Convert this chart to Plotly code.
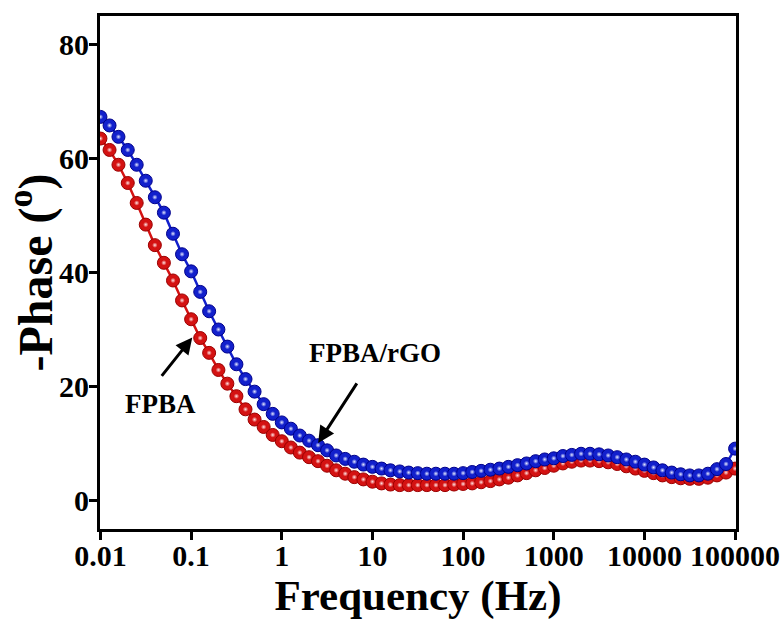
import math
import plotly.graph_objects as go

# Measurement frequencies (Hz), 10 points per decade
freq = [
    0.01, 0.0126, 0.0158, 0.02, 0.0251, 0.0316, 0.0398, 0.0501, 0.0631, 0.0794,
    0.1, 0.126, 0.158, 0.2, 0.251, 0.316, 0.398, 0.501, 0.631, 0.794,
    1.0, 1.26, 1.58, 2.0, 2.51, 3.16, 3.98, 5.01, 6.31, 7.94,
    10.0, 12.6, 15.8, 20.0, 25.1, 31.6, 39.8, 50.1, 63.1, 79.4,
    100.0, 126.0, 158.0, 200.0, 251.0, 316.0, 398.0, 501.0, 631.0, 794.0,
    1000.0, 1260.0, 1580.0, 2000.0, 2510.0, 3160.0, 3980.0, 5010.0, 6310.0, 7940.0,
    10000.0, 12600.0, 15800.0, 20000.0, 25100.0, 31600.0, 39800.0, 50100.0, 63100.0, 79400.0,
    100000.0,
]

# -Phase (degrees)
phase_fpba = [
    63.5, 61.5, 58.9, 55.7, 52.2, 48.4, 44.8, 41.7, 38.6, 35.1,
    31.8, 28.5, 25.9, 22.9, 20.5, 18.3, 16.0, 14.2, 12.9, 11.5,
    10.4, 9.3, 8.4, 7.6, 6.9, 6.1, 5.3, 4.7, 4.1, 3.7,
    3.3, 3.0, 2.8, 2.7, 2.7, 2.7, 2.7, 2.7, 2.7, 2.8,
    2.9, 3.0, 3.2, 3.4, 3.7, 4.0, 4.4, 4.8, 5.3, 5.7,
    6.1, 6.5, 6.8, 7.0, 7.0, 6.9, 6.7, 6.4, 6.0, 5.6,
    5.2, 4.8, 4.4, 4.1, 3.9, 3.8, 3.8, 4.0, 4.4, 4.9,
    5.6,
]

phase_fpba_rgo = [
    67.3, 65.8, 63.8, 61.5, 58.9, 56.1, 53.2, 50.5, 46.8, 43.2,
    40.2, 36.6, 33.2, 30.0, 27.0, 23.9, 21.3, 19.1, 16.9, 15.2,
    13.7, 12.6, 11.4, 10.5, 9.7, 8.8, 7.9, 7.3, 6.8, 6.3,
    5.9, 5.6, 5.3, 5.1, 4.9, 4.8, 4.7, 4.7, 4.7, 4.7,
    4.8, 5.0, 5.2, 5.4, 5.6, 5.9, 6.2, 6.5, 6.9, 7.2,
    7.4, 7.8, 8.0, 8.2, 8.2, 8.1, 7.9, 7.6, 7.2, 6.8,
    6.3, 5.8, 5.3, 4.9, 4.6, 4.4, 4.4, 4.7, 5.5, 6.4,
    9.1,
]

xtick_vals = [0.01, 0.1, 1, 10, 100, 1000, 10000, 100000]
xtick_text = ["0.01", "0.1", "1", "10", "100", "1000", "10000", "100000"]
ytick_vals = [0, 20, 40, 60, 80]

SERIF = "Liberation Serif"

series = [
    ("FPBA", phase_fpba, "#d41212", "#9a0000", "#ffe4e4"),
    ("FPBA/rGO", phase_fpba_rgo, "#1220cc", "#00008a", "#e4e8ff"),
]

fig = go.Figure()
for name, vals, body, edge, shine in series:
    # ball markers joined by a line
    fig.add_trace(go.Scatter(
        x=freq, y=vals, name=name, mode="lines+markers",
        line=dict(color=body, width=2.5),
        marker=dict(size=13, color=body, line=dict(color=edge, width=1)),
        showlegend=False,
    ))
    # specular highlight on each ball
    fig.add_trace(go.Scatter(
        x=freq, y=vals, mode="markers", hoverinfo="skip",
        marker=dict(size=5.5, color=body,
                    gradient=dict(type="radial", color=shine), line=dict(width=0)),
        showlegend=False,
    ))

lg = math.log10

# labels and pointer arrows
fig.add_annotation(x=lg(0.046), y=17.0, text="FPBA", showarrow=False,
                   font=dict(family=SERIF, size=27, color="black", weight="bold"))
fig.add_annotation(x=lg(0.103), y=28.6, ax=lg(0.046), ay=21.6,
                   xref="x", yref="y", axref="x", ayref="y", text="",
                   showarrow=True, arrowhead=2, arrowsize=1.1, arrowwidth=3,
                   arrowcolor="black")
fig.add_annotation(x=lg(10.7), y=25.9, text="FPBA/rGO", showarrow=False,
                   font=dict(family=SERIF, size=27, color="black", weight="bold"))
fig.add_annotation(x=lg(2.52), y=10.1, ax=lg(6.9), ay=20.8,
                   xref="x", yref="y", axref="x", ayref="y", text="",
                   showarrow=True, arrowhead=2, arrowsize=1.1, arrowwidth=3,
                   arrowcolor="black")

axis_common = dict(
    showline=True, linecolor="black", linewidth=3, mirror=True,
    ticks="outside", ticklen=8, tickwidth=3, tickcolor="black",
    showgrid=False, zeroline=False, automargin=False,
    tickfont=dict(family=SERIF, size=30, color="black", weight="bold"),
)

fig.update_layout(
    width=782, height=623,
    margin=dict(l=100, r=46, t=16, b=94),
    paper_bgcolor="white", plot_bgcolor="white",
    xaxis=dict(type="log", range=[-2.005, 5.01],
               tickvals=xtick_vals, ticktext=xtick_text,
               ticklabelstandoff=-10,
               title=dict(text="Frequency (Hz)", standoff=4,
                          font=dict(family=SERIF, size=43, color="black", weight="bold")),
               **axis_common),
    yaxis=dict(range=[-5, 85], tickvals=ytick_vals,
               ticklabelstandoff=-6,
               title=dict(text="-Phase (<sup><span style='font-size:36px'>o</span></sup>)",
                          standoff=12,
                          font=dict(family=SERIF, size=48, color="black", weight="bold")),
               **axis_common),
)

fig.write_html("out.html")
